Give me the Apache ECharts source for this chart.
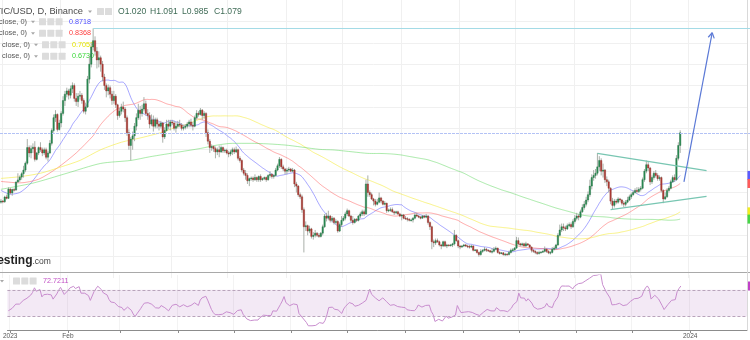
<!DOCTYPE html>
<html>
<head>
<meta charset="utf-8">
<script src="https://cdn.jsdelivr.net/npm/echarts@6/dist/echarts.min.js"></script>
<style>
html, body { margin: 0; padding: 0; background: #fff; }
#chart { width: 750px; height: 340px; }
</style>
</head>
<body>
<div id="chart"></div>
<script>
// MATIC/USD daily candles (Binance), 31 Dec 2022 - 27 Dec 2023.
// Crypto trades around the clock, so each day's open is the previous close.
const firstDay = '2022-12-31';
const firstOpen = 0.755;

const closes = [
  0.760,
  // Jan
  0.757,0.779,0.773,0.816,0.798,0.814,0.812,0.849,0.859,0.872,0.888,0.905,0.937,1.010,0.985,1.005,1.012,0.955,0.985,1.010,1.000,0.985,1.000,0.965,0.985,1.030,1.090,1.150,1.165,1.095,1.125,
  // Feb
  1.170,1.230,1.260,1.275,1.255,1.285,1.300,1.240,1.225,1.250,1.255,1.230,1.180,1.200,1.330,1.400,1.480,1.510,1.460,1.420,1.430,1.400,1.340,1.300,1.275,1.290,1.260,1.230,
  // Mar
  1.250,1.210,1.160,1.180,1.200,1.190,1.150,1.080,1.020,1.050,1.065,1.110,1.150,1.185,1.170,1.190,1.215,1.170,1.160,1.120,1.140,1.110,1.140,1.120,1.110,1.125,1.060,1.090,1.120,1.110,1.130,
  // Apr
  1.125,1.100,1.110,1.120,1.115,1.100,1.105,1.110,1.120,1.130,1.115,1.110,1.150,1.170,1.165,1.185,1.160,1.170,1.080,1.040,1.010,1.015,1.005,0.990,1.000,0.990,1.010,0.995,0.998,0.985,
  // May
  0.980,0.990,1.000,0.990,1.000,0.960,0.950,0.905,0.890,0.880,0.855,0.865,0.868,0.860,0.870,0.860,0.875,0.860,0.865,0.870,0.860,0.880,0.885,0.875,0.880,0.905,0.925,0.955,0.920,0.910,0.900,
  // Jun
  0.905,0.910,0.900,0.905,0.840,0.830,0.790,0.780,0.720,0.640,0.645,0.620,0.630,0.595,0.600,0.610,0.600,0.595,0.610,0.640,0.690,0.680,0.690,0.670,0.680,0.660,0.665,0.620,0.650,0.670,
  // Jul
  0.680,0.700,0.715,0.690,0.670,0.660,0.675,0.670,0.690,0.700,0.710,0.700,0.840,0.800,0.790,0.770,0.760,0.745,0.755,0.775,0.760,0.745,0.750,0.715,0.718,0.720,0.710,0.705,0.710,0.700,0.690,
  // Aug
  0.695,0.680,0.678,0.675,0.670,0.672,0.680,0.695,0.690,0.685,0.680,0.690,0.685,0.690,0.660,0.640,0.570,0.565,0.575,0.570,0.555,0.550,0.570,0.550,0.555,0.553,0.555,0.560,0.600,0.575,0.550,
  // Sep
  0.545,0.550,0.555,0.550,0.548,0.545,0.550,0.530,0.532,0.520,0.510,0.525,0.530,0.535,0.530,0.528,0.522,0.525,0.535,0.540,0.520,0.515,0.518,0.510,0.512,0.510,0.520,0.530,0.532,0.540,
  // Oct
  0.575,0.560,0.555,0.560,0.550,0.560,0.555,0.545,0.530,0.525,0.520,0.515,0.520,0.522,0.525,0.535,0.525,0.518,0.520,0.535,0.540,0.555,0.600,0.625,0.640,0.635,0.630,0.645,0.650,0.640,0.665,
  // Nov
  0.680,0.690,0.685,0.710,0.730,0.745,0.765,0.790,0.830,0.870,0.880,0.890,0.920,0.950,0.900,0.905,0.860,0.850,0.820,0.760,0.740,0.760,0.755,0.770,0.765,0.750,0.745,0.755,0.765,0.780,
  // Dec
  0.790,0.800,0.810,0.805,0.815,0.820,0.860,0.900,0.930,0.915,0.850,0.870,0.890,0.880,0.865,0.870,0.810,0.770,0.780,0.810,0.820,0.850,0.870,0.860,0.960,1.020,1.079
];

const highs = [
  0.770,
  0.765,0.785,0.790,0.825,0.820,0.818,0.820,0.852,0.890,0.880,0.895,0.925,0.945,1.050,1.020,1.020,1.030,1.040,0.990,1.015,1.035,1.010,1.010,1.010,0.995,1.045,1.100,1.165,1.185,1.170,1.140,
  1.180,1.250,1.275,1.290,1.285,1.300,1.315,1.310,1.265,1.265,1.275,1.265,1.240,1.220,1.345,1.440,1.500,1.567,1.530,1.480,1.460,1.440,1.415,1.355,1.310,1.305,1.300,1.275,
  1.275,1.260,1.215,1.195,1.215,1.225,1.200,1.160,1.095,1.060,1.085,1.125,1.170,1.215,1.205,1.210,1.246,1.230,1.190,1.175,1.165,1.160,1.150,1.150,1.130,1.135,1.130,1.105,1.140,1.140,1.140,
  1.140,1.135,1.130,1.135,1.140,1.125,1.115,1.120,1.130,1.140,1.145,1.130,1.160,1.185,1.180,1.195,1.190,1.180,1.175,1.095,1.050,1.025,1.020,1.015,1.010,1.020,1.020,1.015,1.005,1.005,
  0.995,1.000,1.010,1.010,1.015,1.005,0.970,0.955,0.915,0.905,0.890,0.870,0.875,0.875,0.885,0.875,0.880,0.885,0.870,0.875,0.875,0.885,0.900,0.890,0.885,0.915,0.935,0.966,0.960,0.930,0.915,
  0.915,0.920,0.915,0.915,0.910,0.850,0.835,0.800,0.790,0.730,0.665,0.650,0.645,0.635,0.615,0.625,0.615,0.610,0.615,0.650,0.700,0.705,0.715,0.695,0.690,0.685,0.675,0.670,0.660,0.690,
  0.690,0.710,0.725,0.720,0.695,0.690,0.680,0.680,0.695,0.710,0.720,0.720,0.860,0.880,0.810,0.800,0.775,0.770,0.770,0.800,0.780,0.765,0.760,0.752,0.725,0.730,0.730,0.715,0.715,0.715,0.705,
  0.700,0.700,0.690,0.685,0.680,0.678,0.685,0.705,0.705,0.695,0.690,0.695,0.695,0.700,0.695,0.665,0.645,0.580,0.585,0.585,0.575,0.560,0.575,0.575,0.560,0.558,0.560,0.565,0.625,0.605,0.580,
  0.555,0.555,0.560,0.560,0.556,0.555,0.556,0.553,0.535,0.535,0.523,0.535,0.535,0.545,0.540,0.535,0.532,0.540,0.545,0.548,0.542,0.525,0.522,0.522,0.518,0.516,0.528,0.538,0.540,0.545,
  0.593,0.590,0.565,0.566,0.565,0.570,0.562,0.558,0.548,0.535,0.530,0.525,0.528,0.526,0.530,0.548,0.538,0.530,0.526,0.545,0.548,0.560,0.610,0.650,0.655,0.655,0.645,0.655,0.660,0.660,0.675,
  0.695,0.705,0.700,0.720,0.745,0.760,0.780,0.805,0.860,0.885,0.905,0.910,0.985,0.970,0.960,0.935,0.910,0.875,0.860,0.825,0.775,0.770,0.770,0.778,0.775,0.770,0.760,0.765,0.780,0.790,
  0.800,0.810,0.820,0.825,0.825,0.830,0.870,0.910,0.950,0.945,0.920,0.880,0.900,0.905,0.890,0.880,0.875,0.815,0.800,0.820,0.830,0.860,0.880,0.885,0.975,1.035,1.091
];

const lows = [
  0.748,
  0.750,0.752,0.768,0.770,0.792,0.785,0.805,0.808,0.845,0.850,0.860,0.870,0.895,0.930,0.965,0.960,0.985,0.945,0.950,0.975,0.990,0.970,0.975,0.955,0.945,0.980,1.020,1.080,1.130,1.085,1.090,
  1.105,1.160,1.205,1.245,1.235,1.240,1.265,1.225,1.205,1.200,1.235,1.215,1.170,1.165,1.195,1.310,1.385,1.465,1.440,1.380,1.385,1.365,1.320,1.280,1.245,1.255,1.240,1.210,
  1.215,1.195,1.140,1.150,1.165,1.175,1.130,1.065,1.000,0.950,1.000,1.040,1.090,1.140,1.140,1.155,1.180,1.160,1.140,1.100,1.110,1.085,1.100,1.100,1.090,1.100,1.033,1.050,1.085,1.095,1.090,
  1.115,1.090,1.080,1.100,1.105,1.090,1.090,1.095,1.100,1.105,1.105,1.090,1.105,1.140,1.155,1.160,1.140,1.145,1.060,1.025,0.985,0.995,0.990,0.960,0.975,0.965,0.985,0.985,0.985,0.978,
  0.965,0.970,0.975,0.980,0.985,0.950,0.940,0.895,0.880,0.860,0.840,0.830,0.855,0.850,0.855,0.850,0.850,0.850,0.855,0.858,0.850,0.855,0.870,0.865,0.865,0.875,0.900,0.915,0.910,0.900,0.885,
  0.885,0.895,0.895,0.895,0.825,0.800,0.780,0.770,0.705,0.520,0.620,0.600,0.610,0.585,0.580,0.590,0.592,0.588,0.590,0.600,0.635,0.665,0.670,0.660,0.660,0.650,0.650,0.612,0.615,0.640,
  0.665,0.670,0.690,0.685,0.660,0.650,0.655,0.662,0.665,0.680,0.690,0.690,0.695,0.780,0.780,0.765,0.740,0.735,0.740,0.750,0.750,0.740,0.740,0.705,0.708,0.710,0.705,0.695,0.700,0.695,0.685,
  0.670,0.675,0.672,0.665,0.665,0.665,0.660,0.675,0.685,0.680,0.675,0.678,0.680,0.680,0.650,0.625,0.535,0.545,0.555,0.565,0.548,0.535,0.545,0.545,0.540,0.548,0.548,0.545,0.552,0.570,0.540,
  0.535,0.542,0.545,0.545,0.540,0.538,0.540,0.525,0.527,0.515,0.500,0.505,0.518,0.525,0.522,0.522,0.518,0.515,0.520,0.530,0.515,0.510,0.512,0.505,0.503,0.505,0.506,0.515,0.525,0.528,
  0.538,0.555,0.548,0.548,0.545,0.545,0.550,0.540,0.520,0.518,0.512,0.508,0.510,0.515,0.518,0.520,0.518,0.512,0.510,0.515,0.530,0.535,0.550,0.595,0.615,0.620,0.620,0.625,0.638,0.630,0.635,
  0.655,0.670,0.670,0.680,0.705,0.720,0.735,0.755,0.780,0.815,0.855,0.865,0.880,0.900,0.880,0.870,0.845,0.830,0.800,0.745,0.720,0.730,0.745,0.748,0.755,0.740,0.732,0.735,0.750,0.760,
  0.770,0.785,0.795,0.795,0.798,0.805,0.815,0.850,0.890,0.900,0.835,0.840,0.860,0.870,0.855,0.855,0.800,0.750,0.765,0.775,0.800,0.815,0.845,0.850,0.855,0.950,0.985
];

// Moving-average values before each window fills up inside this data range
const ma20Lead  = [['2022-12-31', 0.810], ['2023-01-05', 0.792], ['2023-01-10', 0.800], ['2023-01-15', 0.835]];
const ma50Lead  = [['2022-12-31', 0.852], ['2023-01-10', 0.845], ['2023-01-20', 0.862], ['2023-01-30', 0.915], ['2023-02-09', 0.985]];
const ma100Lead = [['2022-12-31', 0.866], ['2023-01-10', 0.874], ['2023-01-21', 0.890], ['2023-02-01', 0.920], ['2023-02-11', 0.950],
                   ['2023-02-22', 1.000], ['2023-03-05', 1.035], ['2023-03-15', 1.055], ['2023-03-26', 1.080], ['2023-04-03', 1.105]];
const ma200Lead = [['2022-12-31', 0.815], ['2023-01-17', 0.844], ['2023-02-04', 0.890], ['2023-02-22', 0.936], ['2023-03-10', 0.950],
                   ['2023-03-20', 0.967], ['2023-04-05', 0.990], ['2023-04-16', 1.006], ['2023-04-25', 1.022], ['2023-05-03', 1.030],
                   ['2023-05-13', 1.030], ['2023-05-31', 1.022], ['2023-06-18', 1.002], ['2023-06-26', 0.999], ['2023-07-06', 0.990],
                   ['2023-07-14', 0.983]];

// RSI(14) running averages carried in from before the first day
const rsiSeed = { gain: 0.011, loss: 0.018 };
const rsiShown = '72.7211';

// Drawn objects
const targetLevel = { from: '2023-02-18', price: 1.567 };
const lastPrice = 1.079;
const trendLines = [
  { from: ['2023-11-13', 0.983], to: ['2024-01-10', 0.902] },
  { from: ['2023-11-20', 0.720], to: ['2024-01-10', 0.782] }
];
const arrow = { from: ['2023-12-29', 0.850], to: ['2024-01-13', 1.547] };

// Axis marks
const axisMarks = [['2023-01-01', '2023'], ['2023-02-01', 'Feb'], ['2024-01-01', '2024']];
const lastDay = '2024-01-31';

// ---------------------------------------------------------------
const FONT = '"Liberation Sans", Arial, sans-serif';

const days = [];
{
  const t0 = Date.parse(firstDay + 'T00:00:00Z');
  const t1 = Date.parse(lastDay + 'T00:00:00Z');
  for (let t = t0; t <= t1; t += 86400000) days.push(new Date(t).toISOString().slice(0, 10));
}
const dayIndex = d => days.indexOf(d);

const candles = closes.map((c, i) => {
  const o = i === 0 ? firstOpen : closes[i - 1];
  return [i, o, c, Math.min(lows[i], o, c), Math.max(highs[i], o, c)];
});

function movingAverage(period, lead) {
  const out = new Array(closes.length).fill(null);
  lead.forEach(([d, v]) => { out[dayIndex(d)] = v; });
  let sum = 0;
  for (let i = 0; i < closes.length; i++) {
    sum += closes[i];
    if (i >= period) sum -= closes[i - period];
    if (i >= period - 1) out[i] = +(sum / period).toFixed(4);
  }
  return out;
}

function rsi14() {
  let g = rsiSeed.gain, l = rsiSeed.loss;
  return closes.map((c, i) => {
    const prev = i === 0 ? firstOpen : closes[i - 1];
    const ch = c - prev;
    g = (g * 13 + Math.max(ch, 0)) / 14;
    l = (l * 13 + Math.max(-ch, 0)) / 14;
    return +(100 - 100 / (1 + g / l)).toFixed(2);
  });
}

const maDefs = [
  { period: 20,  lead: ma20Lead,  line: 'rgba(95,95,255,0.55)',  tag: '#5b5bff' },
  { period: 50,  lead: ma50Lead,  line: 'rgba(255,90,90,0.5)',   tag: '#ff5a5a' },
  { period: 100, lead: ma100Lead, line: 'rgba(245,235,60,0.6)',  tag: '#f2ee1e' },
  { period: 200, lead: ma200Lead, line: 'rgba(90,215,90,0.5)',   tag: '#46d646' }
];
maDefs.forEach(m => { m.data = movingAverage(m.period, m.lead); });
const rsiData = rsi14();

const isMonthStart = (idx, val) => val.slice(8) === '01';
const markText = {};
axisMarks.forEach(([d, t]) => { markText[d] = t; });

const chart = echarts.init(document.getElementById('chart'));

function candleItem(params, api) {
  const i = api.value(0);
  const o = api.value(1), c = api.value(2), lo = api.value(3), hi = api.value(4);
  const pO = api.coord([i, o]), pC = api.coord([i, c]);
  const pL = api.coord([i, lo]), pH = api.coord([i, hi]);
  const x = pO[0];
  const w = 1.4;
  const top = Math.min(pO[1], pC[1]);
  const h = Math.max(Math.abs(pO[1] - pC[1]), 0.8);
  const up = c >= o;
  return {
    type: 'group',
    children: [
      { type: 'line', shape: { x1: x, y1: pH[1], x2: x, y2: pL[1] }, style: { stroke: '#9fa79f', lineWidth: 0.9 } },
      { type: 'rect', shape: { x: x - w / 2, y: top, width: w, height: h },
        style: { fill: up ? '#2c8d55' : '#b13e36', stroke: up ? '#1f6e40' : '#8e2c26', lineWidth: 0.4 } }
    ]
  };
}

function overlayItem(params, api) {
  const cs = params.coordSys;
  const right = cs.x + cs.width + 4;
  const at = (d, p) => api.coord([dayIndex(d), p]);
  const crisp = y => Math.round(y) + 0.5;
  const kids = [];

  const t = at(targetLevel.from, targetLevel.price);
  kids.push({ type: 'line', shape: { x1: t[0], y1: crisp(t[1]), x2: right, y2: crisp(t[1]) },
              style: { stroke: '#a4dbe6', lineWidth: 1 } });

  const lp = crisp(api.coord([0, lastPrice])[1]);
  kids.push({ type: 'line', shape: { x1: cs.x, y1: lp, x2: right, y2: lp },
              style: { stroke: '#b3c2f5', lineWidth: 1, lineDash: [3, 1] } });

  trendLines.forEach(tl => {
    const a = at(tl.from[0], tl.from[1]), b = at(tl.to[0], tl.to[1]);
    kids.push({ type: 'line', shape: { x1: a[0], y1: a[1], x2: b[0], y2: b[1] },
                style: { stroke: '#78c6b2', lineWidth: 1.3 } });
  });

  const a0 = at(arrow.from[0], arrow.from[1]), a1 = at(arrow.to[0], arrow.to[1]);
  kids.push({ type: 'line', shape: { x1: a0[0], y1: a0[1], x2: a1[0], y2: a1[1] },
              style: { stroke: '#5b79d6', lineWidth: 1.2 } });
  const ang = Math.atan2(a1[1] - a0[1], a1[0] - a0[0]);
  [Math.PI * 0.83, -Math.PI * 0.83].forEach(da => {
    kids.push({ type: 'line', shape: { x1: a1[0], y1: a1[1],
      x2: a1[0] + 6 * Math.cos(ang + da), y2: a1[1] + 6 * Math.sin(ang + da) },
      style: { stroke: '#5b79d6', lineWidth: 1.2 } });
  });

  // value tags on the price scale edge
  maDefs.forEach(m => {
    const v = m.data[m.data.length - 1];
    const y = api.coord([0, v])[1];
    kids.push({ type: 'rect', shape: { x: cs.x + cs.width + 0.5, y: y - 4.5, width: 6, height: 9 }, style: { fill: m.tag } });
  });
  return { type: 'group', children: kids };
}

function icon(x, y) {
  return { type: 'rect', shape: { x: x, y: y - 3.5, width: 7, height: 7, r: 0.5 }, style: { fill: '#dcdcdc' } };
}
function caret(x, y) {
  return { type: 'polygon', shape: { points: [[x, y - 1], [x + 4, y - 1], [x + 2, y + 1.5]] }, style: { fill: '#a8a8a8' } };
}
function label(x, y, s, fill, size, align, weight) {
  return { type: 'text', x: x, y: y, style: { text: s, fill: fill, font: (weight || 'normal') + ' ' + size + 'px ' + FONT,
           align: align || 'left', verticalAlign: 'middle' } };
}

const legendRows = [
  ['MA (20, close, 0)',  27, 21.7, '0.8718', '#4f4fff'],
  ['MA (50, close, 0)',  27, 33.3, '0.8368', '#ff3d3d'],
  ['MA (100, close, 0)', 30, 44.8, '0.7053', '#e4e400'],
  ['MA (200, close, 0)', 30, 56.2, '0.6730', '#38d838']
];

function buildGraphic(rsiTagY) {
  const g = [];
  // header
  g.push(label(83, 11.5, 'MATIC/USD, D, Binance', '#4a4a4a', 9.3, 'right'));
  g.push(caret(88, 11.5));
  g.push(icon(97, 11.5), icon(105, 11.5));
  [['O1.020', 118], ['H1.091', 150], ['L0.985', 182], ['C1.079', 214]].forEach(([s, x]) => g.push(label(x, 11.5, s, '#3f6b56', 8.6)));
  legendRows.forEach(([name, xe, y, val, col]) => {
    g.push(label(xe, y, name, '#555555', 7.4, 'right'));
    g.push(caret(xe + 4, y));
    g.push(icon(xe + 12, y), icon(xe + 20.3, y), icon(xe + 28.6, y));
    g.push(label(xe + 42, y, val, col, 7.2));
  });
  // watermark
  g.push(label(32.5, 260.5, 'investing', '#222222', 12, 'right', 'bold'));
  g.push(label(32.5, 262, '.com', '#444444', 8.5, 'left'));
  // panel separators and right scale border
  g.push({ type: 'line', shape: { x1: 0, y1: 272.5, x2: 750, y2: 272.5 }, style: { stroke: '#a9a9a9', lineWidth: 1 } });
  g.push({ type: 'line', shape: { x1: 747.5, y1: 0, x2: 747.5, y2: 330 }, style: { stroke: '#d9d9d9', lineWidth: 1 } });
  // RSI legend
  g.push(caret(0, 281));
  g.push(icon(13, 281), icon(21.3, 281), icon(29.6, 281));
  g.push(label(43, 281, rsiShown, '#c04fc4', 7.2));
  if (rsiTagY != null) g.push({ type: 'rect', shape: { x: 748, y: rsiTagY - 4.5, width: 4, height: 9 }, style: { fill: '#c040c8' } });
  return g;
}

const option = {
  animation: false,
  backgroundColor: '#ffffff',
  grid: [
    { left: 0, right: 3, top: 0, bottom: 61.9 },
    { left: 0, right: 3, top: 275, bottom: 10 }
  ],
  xAxis: [
    { type: 'category', gridIndex: 0, data: days, boundaryGap: true,
      axisLine: { show: false }, axisTick: { show: false, alignWithLabel: true }, axisLabel: { show: false },
      splitLine: { show: true, interval: isMonthStart, lineStyle: { color: '#f0f0f0', width: 1 } } },
    { type: 'category', gridIndex: 1, data: days, boundaryGap: true,
      axisLine: { show: true, lineStyle: { color: '#8c8c8c', width: 1 } },
      axisTick: { show: true, alignWithLabel: true, interval: isMonthStart, length: 3, lineStyle: { color: '#8c8c8c' } },
      axisLabel: { show: true, interval: (i, v) => markText[v] !== undefined, formatter: v => markText[v] || '',
                   fontSize: 6.5, fontFamily: FONT, color: '#555', margin: 3 },
      splitLine: { show: true, interval: isMonthStart, lineStyle: { color: '#f3f3f3', width: 1 } } }
  ],
  yAxis: [
    { type: 'value', gridIndex: 0, min: 0.4, max: 1.7, interval: 0.1, position: 'right',
      axisLine: { show: false }, axisTick: { show: false }, axisLabel: { show: false },
      splitLine: { show: true, showMinLine: false, showMaxLine: false, lineStyle: { color: '#f0f0f0', width: 1 } } },
    { type: 'value', gridIndex: 1, min: 10, max: 92, position: 'right',
      axisLine: { show: false }, axisTick: { show: false }, axisLabel: { show: false }, splitLine: { show: false } }
  ],
  series: [
    ...maDefs.map(m => ({
      type: 'line', xAxisIndex: 0, yAxisIndex: 0, data: m.data, connectNulls: true, smooth: 0.25,
      showSymbol: false, symbol: 'none', silent: true, z: 2,
      lineStyle: { color: m.line, width: 1 }
    })),
    { type: 'custom', xAxisIndex: 0, yAxisIndex: 0, data: candles, renderItem: candleItem,
      encode: { x: 0, y: [1, 2, 3, 4] }, z: 3, silent: true, clip: false },
    { type: 'custom', xAxisIndex: 0, yAxisIndex: 0, data: [[0, lastPrice]], renderItem: overlayItem,
      z: 5, silent: true, clip: false },
    { type: 'line', xAxisIndex: 1, yAxisIndex: 1, data: rsiData, showSymbol: false, symbol: 'none', silent: true,
      lineStyle: { color: '#c88dce', width: 1 }, z: 3,
      markArea: { silent: true, itemStyle: { color: 'rgba(160,70,170,0.12)' }, data: [[{ yAxis: 30 }, { yAxis: 70 }]] },
      markLine: { silent: true, symbol: 'none', label: { show: false },
                  lineStyle: { color: '#b9a4bb', type: [3, 2], width: 1 }, data: [{ yAxis: 30 }, { yAxis: 70 }] } }
  ],
  graphic: buildGraphic(null)
};

chart.setOption(option);
const rsiTagY = chart.convertToPixel({ xAxisIndex: 1, yAxisIndex: 1 }, [0, rsiData[rsiData.length - 1]])[1];
chart.setOption({ graphic: buildGraphic(rsiTagY) }, { replaceMerge: ['graphic'] });
</script>
</body>
</html>
